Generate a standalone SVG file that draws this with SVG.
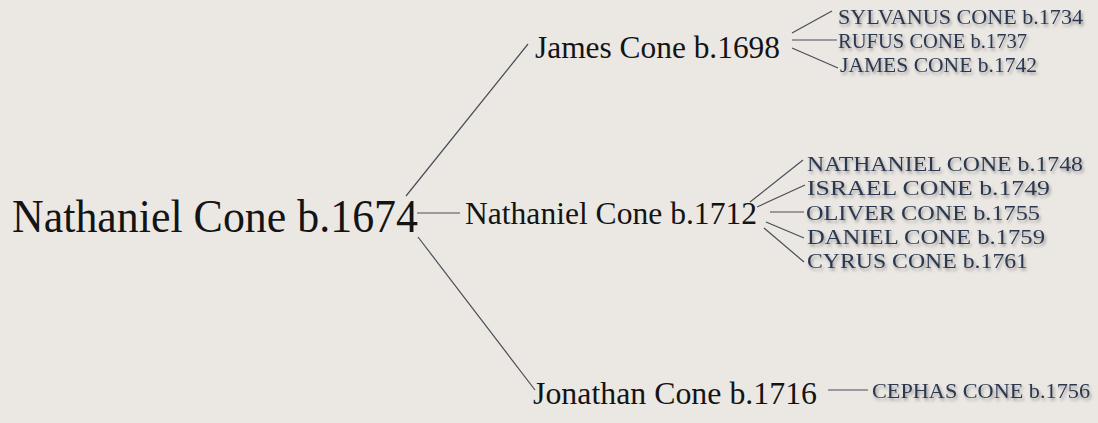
<svg xmlns="http://www.w3.org/2000/svg" width="1098" height="423" viewBox="0 0 1098 423">
<defs>
<filter id="sh" x="-5%" y="-30%" width="115%" height="180%">
<feDropShadow dx="1.5" dy="2.5" stdDeviation="1.6" flood-color="#000" flood-opacity="0.35"/>
</filter>
<style>
.main{font-family:"Liberation Serif","Times New Roman",serif;fill:#141414;}
.kid{font-family:"Liberation Serif","Times New Roman",serif;fill:#2b3850;font-size:22px;filter:url(#sh);}
.ln{stroke:#4a4c58;stroke-width:1.2;fill:none;}
</style>
</defs>
<rect width="1098" height="423" fill="#ebe8e4"/>
<g id="connectors">
<line class="ln" x1="406" y1="196" x2="528" y2="44"/>
<line class="ln" x1="417" y1="213" x2="460" y2="213"/>
<line class="ln" x1="418" y1="237" x2="535" y2="390"/>
<line class="ln" x1="792" y1="33" x2="832" y2="11"/>
<line class="ln" x1="792" y1="40" x2="837" y2="40"/>
<line class="ln" x1="792" y1="48" x2="838" y2="68"/>
<line class="ln" x1="750" y1="202" x2="803" y2="160"/>
<line class="ln" x1="757" y1="207" x2="805" y2="185"/>
<line class="ln" x1="770" y1="212" x2="804" y2="212"/>
<line class="ln" x1="766" y1="222" x2="804" y2="238"/>
<line class="ln" x1="764" y1="228" x2="804" y2="262"/>
<line class="ln" x1="828" y1="390" x2="868" y2="390"/>
</g>
<g id="n-root"><text class="main" x="12" y="232" font-size="47" textLength="406" lengthAdjust="spacingAndGlyphs">Nathaniel Cone b.1674</text></g>
<g id="n-james"><text class="main" x="535" y="58" font-size="32" textLength="245" lengthAdjust="spacingAndGlyphs">James Cone b.1698</text></g>
<g id="n-nathaniel"><text class="main" x="465" y="224" font-size="31.5" textLength="292" lengthAdjust="spacingAndGlyphs">Nathaniel Cone b.1712</text></g>
<g id="n-jonathan"><text class="main" x="533" y="404" font-size="32" textLength="284" lengthAdjust="spacingAndGlyphs">Jonathan Cone b.1716</text></g>
<g id="n-sylvanus"><text class="kid" x="838" y="24" textLength="245" lengthAdjust="spacingAndGlyphs">SYLVANUS CONE b.1734</text></g>
<g id="n-rufus"><text class="kid" x="838" y="48" textLength="189" lengthAdjust="spacingAndGlyphs">RUFUS CONE b.1737</text></g>
<g id="n-james2"><text class="kid" x="840" y="72" textLength="197" lengthAdjust="spacingAndGlyphs">JAMES CONE b.1742</text></g>
<g id="n-nathaniel2"><text class="kid" x="807" y="171" textLength="276" lengthAdjust="spacingAndGlyphs">NATHANIEL CONE b.1748</text></g>
<g id="n-israel"><text class="kid" x="807" y="195" textLength="243" lengthAdjust="spacingAndGlyphs">ISRAEL CONE b.1749</text></g>
<g id="n-oliver"><text class="kid" x="806" y="219.5" textLength="234" lengthAdjust="spacingAndGlyphs">OLIVER CONE b.1755</text></g>
<g id="n-daniel"><text class="kid" x="807" y="244" textLength="238" lengthAdjust="spacingAndGlyphs">DANIEL CONE b.1759</text></g>
<g id="n-cyrus"><text class="kid" x="807" y="268" textLength="221" lengthAdjust="spacingAndGlyphs">CYRUS CONE b.1761</text></g>
<g id="n-cephas"><text class="kid" x="872" y="398" textLength="218" lengthAdjust="spacingAndGlyphs">CEPHAS CONE b.1756</text></g>
</svg>
